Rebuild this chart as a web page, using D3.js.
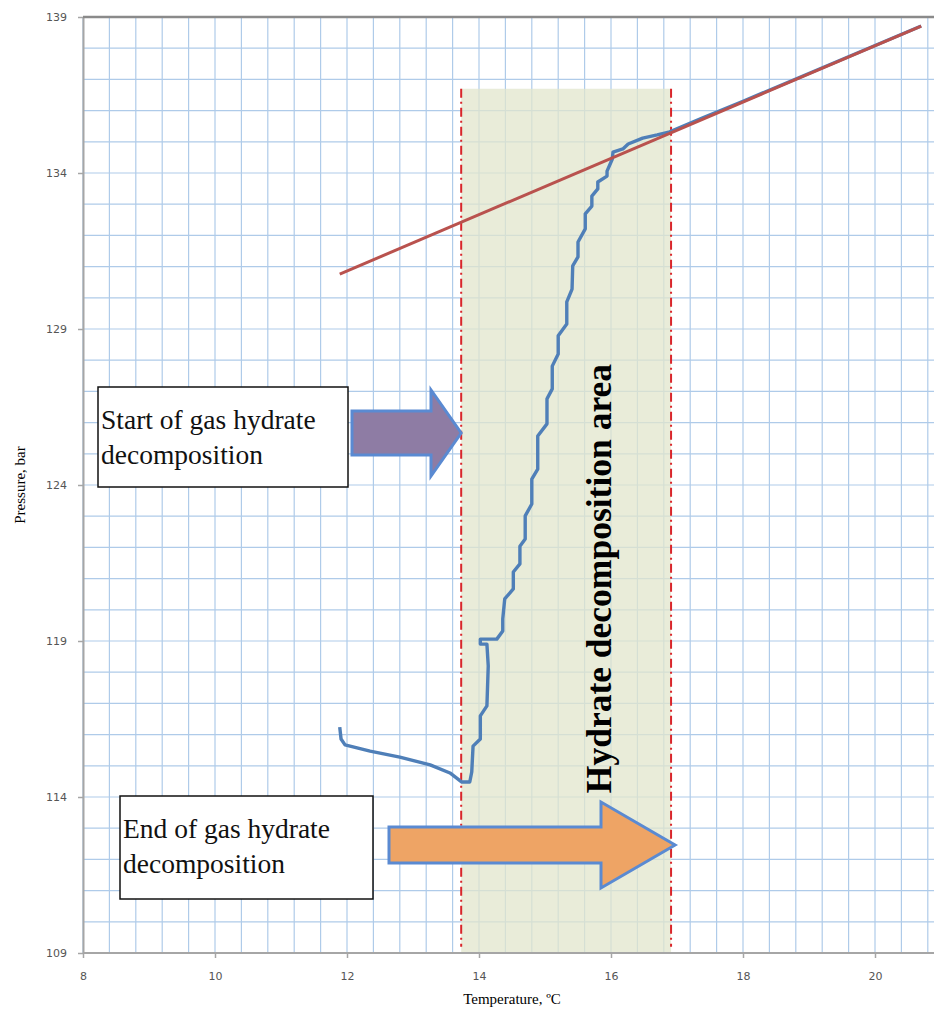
<!DOCTYPE html>
<html>
<head>
<meta charset="utf-8">
<script src="https://cdn.jsdelivr.net/npm/d3@7"></script>
<style>
  body { margin: 0; background: #fff; }
  svg { display: block; }
</style>
</head>
<body>
<svg id="chart"></svg>
<script>
// Axis ticks
const xTicks = [8, 10, 12, 14, 16, 18, 20];
const yTicks = [109, 114, 119, 124, 129, 134, 139];

// Measured pressure (blue) - temperature, pressure
const measuredT = [11.89, 11.91, 11.97, 12.35, 12.80, 13.26, 13.56, 13.74, 13.86, 13.89, 13.91, 14.02, 14.02, 14.12, 14.14,
  14.12, 14.02, 14.02, 14.27, 14.36, 14.36, 14.39, 14.52, 14.52, 14.62, 14.62, 14.70, 14.70, 14.80, 14.80,
  14.89, 14.89, 15.03, 15.03, 15.11, 15.11, 15.20, 15.20, 15.33, 15.33, 15.41, 15.42, 15.50, 15.50, 15.61,
  15.61, 15.71, 15.71, 15.80, 15.80, 15.94, 15.94, 16.02, 16.03, 16.18, 16.26, 16.48, 16.70, 16.89, 17.4, 18.0, 20.7];
const measuredP = [116.24, 115.86, 115.67, 115.47, 115.28, 115.03, 114.77, 114.48, 114.48, 114.80, 115.63, 115.86, 116.60, 116.92, 118.20,
  118.90, 118.90, 119.06, 119.06, 119.32, 119.71, 120.35, 120.67, 121.21, 121.47, 122.04, 122.27, 123.01, 123.39, 124.19,
  124.51, 125.57, 125.96, 126.76, 127.08, 127.81, 128.20, 128.78, 129.16, 129.87, 130.28, 131.02, 131.31, 131.79, 132.21,
  132.69, 132.94, 133.26, 133.49, 133.71, 133.90, 134.06, 134.45, 134.67, 134.77, 134.93, 135.12, 135.22, 135.32, 135.78, 136.30, 138.71];

// Heating line (red)
const heatingT = [11.89, 20.70];
const heatingP = [130.76, 138.71];

// Decomposition area
const decompStart = 13.73;
const decompEnd = 16.91;
const decompTop = 136.7;

const width = 934;
const height = 1019;

const svg = d3.select("#chart")
    .attr("width", width)
    .attr("height", height);

const x = d3.scaleLinear().domain([8, 21]).range([83, 941]);
const y = d3.scaleLinear().domain([109, 139]).range([953, 17]);

// grid
const grid = svg.append("g");
grid.selectAll("line.v")
    .data(d3.range(0, 33).map(i => 8 + i * 0.4))
    .join("line")
    .attr("x1", d => x(d)).attr("x2", d => x(d))
    .attr("y1", y(139)).attr("y2", y(109))
    .attr("stroke", "#afcbe9").attr("stroke-width", 1.2);
grid.selectAll("line.h")
    .data(d3.range(109, 140))
    .join("line")
    .attr("x1", x(8)).attr("x2", width)
    .attr("y1", d => y(d)).attr("y2", d => y(d))
    .attr("stroke", "#afcbe9").attr("stroke-width", 1.2);

// shaded decomposition area
svg.append("rect")
    .attr("x", x(decompStart))
    .attr("y", y(decompTop))
    .attr("width", x(decompEnd) - x(decompStart))
    .attr("height", y(109) - y(decompTop))
    .attr("fill", "#e2e5cc")
    .attr("opacity", 0.75);

// axes
const xAxis = svg.append("g")
    .attr("transform", `translate(0,${y(109)})`)
    .call(d3.axisBottom(x).tickValues(xTicks).tickSize(5).tickSizeOuter(0).tickPadding(14));
const yAxis = svg.append("g")
    .attr("transform", `translate(${x(8)},0)`)
    .call(d3.axisLeft(y).tickValues(yTicks).tickSize(5).tickSizeOuter(0).tickPadding(11));
[xAxis, yAxis].forEach(a => {
  a.selectAll(".domain").attr("stroke", "#a6a6a6").attr("stroke-width", 2);
  a.selectAll(".tick line").attr("stroke", "#a6a6a6").attr("stroke-width", 1.5);
  a.selectAll("text").attr("fill", "#555").attr("font-family", "DejaVu Sans, sans-serif").attr("font-size", 11);
});
xAxis.select(".domain").attr("d", `M${x(8)},0H${width}`);

// top border
svg.append("line")
    .attr("x1", x(8)).attr("x2", width)
    .attr("y1", y(139)).attr("y2", y(139))
    .attr("stroke", "#8a8a8a").attr("stroke-width", 2.5);

// dash-dot boundaries
svg.selectAll("line.bound")
    .data([decompStart, decompEnd])
    .join("line")
    .attr("x1", d => x(d)).attr("x2", d => x(d))
    .attr("y1", y(decompTop)).attr("y2", y(109.2))
    .attr("stroke", "#d9262b").attr("stroke-width", 2)
    .attr("stroke-dasharray", "9,4,2,4");

// lines
const line = d3.line().x(d => x(d[0])).y(d => y(d[1]));
svg.append("path")
    .attr("d", line(d3.zip(measuredT, measuredP)))
    .attr("fill", "none")
    .attr("stroke", "#4f7fb8").attr("stroke-width", 3.4)
    .attr("stroke-linejoin", "round");
svg.append("path")
    .attr("d", line(d3.zip(heatingT, heatingP)))
    .attr("fill", "none")
    .attr("stroke", "#b9524e").attr("stroke-width", 3);

// rotated label in area
svg.append("text")
    .attr("transform", `translate(611,${y(121.0)}) rotate(-90)`)
    .attr("text-anchor", "middle")
    .attr("font-family", "Liberation Serif, Times New Roman, serif")
    .attr("font-weight", "bold")
    .attr("font-size", 35.5)
    .text("Hydrate decomposition area");

// arrows
function arrow(x0, x1, headX, cy, shaftH, headH) {
  return `M${x0},${cy - shaftH / 2}H${headX}V${cy - headH / 2}L${x1},${cy}L${headX},${cy + headH / 2}V${cy + shaftH / 2}H${x0}Z`;
}
svg.append("path")
    .attr("d", arrow(352, x(decompStart), 431, 433, 44, 86))
    .attr("fill", "#8e7ca4").attr("stroke", "#5a8ad2").attr("stroke-width", 3);
svg.append("path")
    .attr("d", arrow(389, x(decompEnd) + 4, 601, 845, 36, 86))
    .attr("fill", "#eea465").attr("stroke", "#5a8ad2").attr("stroke-width", 3);

// text boxes
function box(bx, by, bw, bh, lines) {
  svg.append("rect")
      .attr("x", bx).attr("y", by).attr("width", bw).attr("height", bh)
      .attr("fill", "#fff").attr("stroke", "#111").attr("stroke-width", 1.5);
  svg.append("g").selectAll("text")
      .data(lines)
      .join("text")
      .attr("x", bx + 3)
      .attr("y", (d, i) => by + 42 + i * 35)
      .attr("font-family", "Liberation Serif, Times New Roman, serif")
      .attr("font-size", 27.5)
      .attr("fill", "#111")
      .text(d => d);
}
box(98, 387, 250, 100, ["Start of gas hydrate", "decomposition"]);
box(120, 796, 253, 103, ["End of gas hydrate", "decomposition"]);

// axis titles
svg.append("text")
    .attr("x", 512).attr("y", 1004)
    .attr("text-anchor", "middle")
    .attr("font-family", "Liberation Serif, Times New Roman, serif")
    .attr("font-size", 15)
    .text("Temperature, ºC");
svg.append("text")
    .attr("transform", `translate(25,${y(124)}) rotate(-90)`)
    .attr("text-anchor", "middle")
    .attr("font-family", "Liberation Serif, Times New Roman, serif")
    .attr("font-size", 15)
    .text("Pressure, bar");
</script>
</body>
</html>
